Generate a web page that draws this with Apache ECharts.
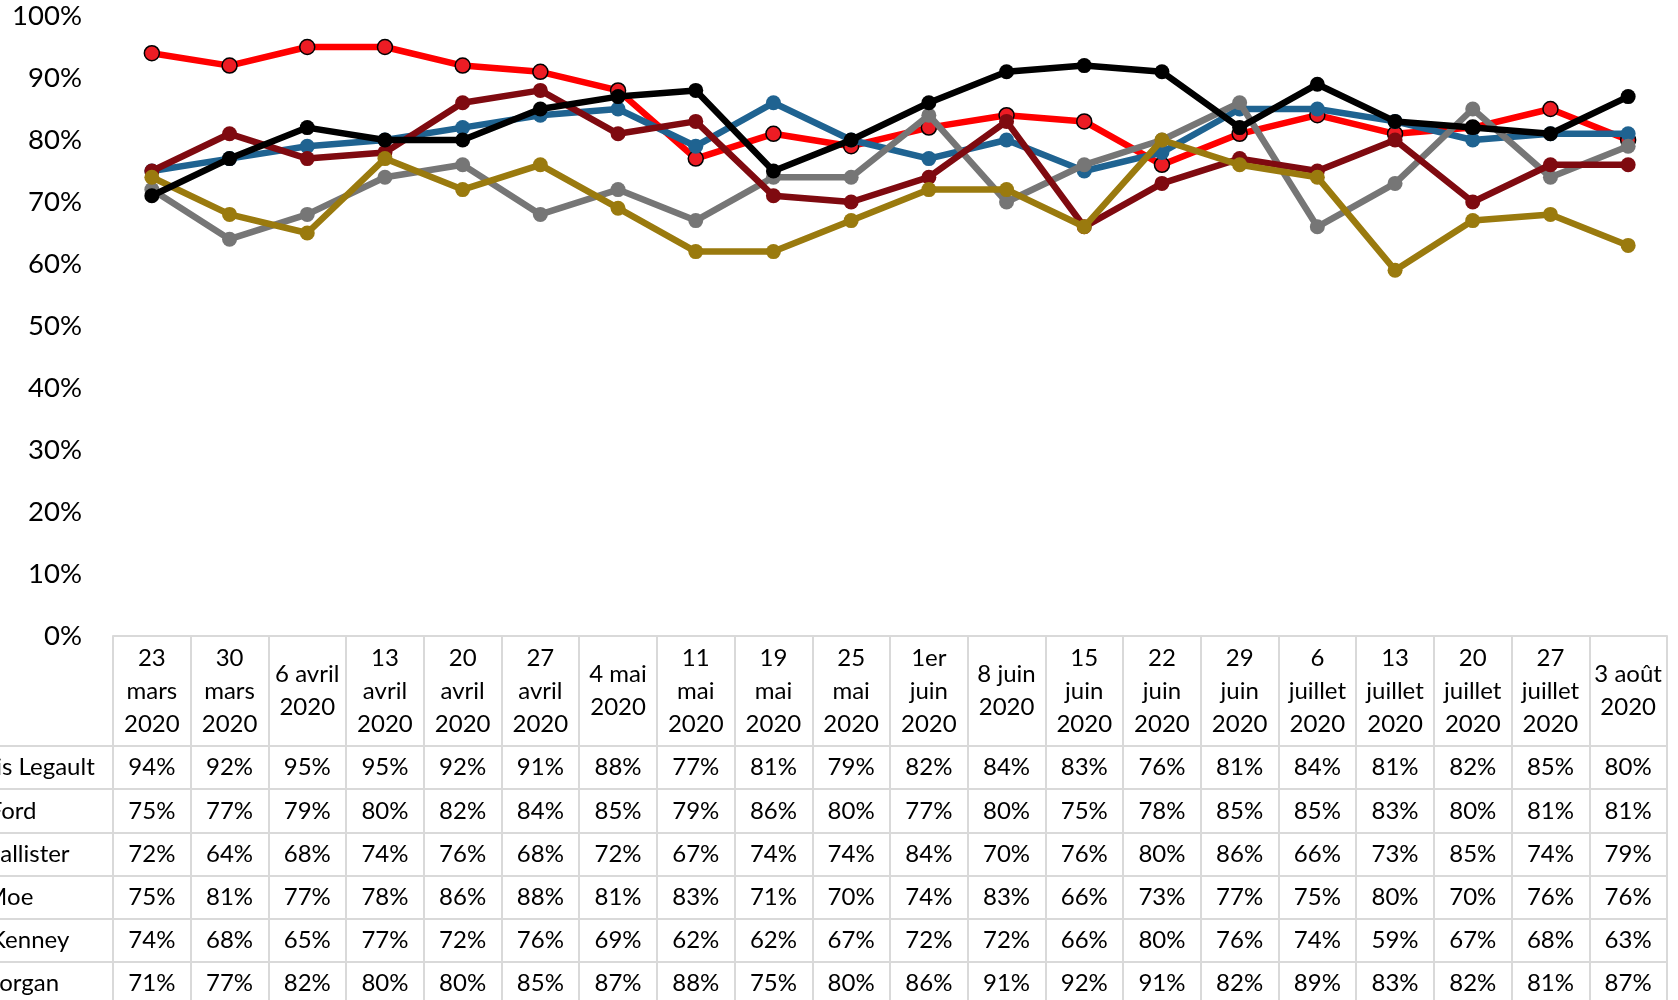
<!DOCTYPE html>
<html>
<head>
    <meta charset="utf-8">
    <title>Premiers ministres</title>
    <script src="https://cdn.jsdelivr.net/npm/echarts@6/dist/echarts.min.js"></script>
    <style>
        html, body { margin: 0; padding: 0; background: #fff; }
        #chart { width: 1678px; height: 1000px; }
    </style>
</head>
<body>
<div id="chart"></div>
<script>
    // categories (table header)
    var dates = ['23\nmars\n2020', '30\nmars\n2020', '6 avril\n2020', '13\navril\n2020', '20\navril\n2020',
        '27\navril\n2020', '4 mai\n2020', '11\nmai\n2020', '19\nmai\n2020', '25\nmai\n2020',
        '1er\njuin\n2020', '8 juin\n2020', '15\njuin\n2020', '22\njuin\n2020', '29\njuin\n2020',
        '6\njuillet\n2020', '13\njuillet\n2020', '20\njuillet\n2020', '27\njuillet\n2020', '3 août\n2020'];

    var names = ['François Legault', 'Doug Ford', 'Brian Pallister', 'Scott Moe', 'Jason Kenney', 'John Horgan'];

    var legault = [94, 92, 95, 95, 92, 91, 88, 77, 81, 79, 82, 84, 83, 76, 81, 84, 81, 82, 85, 80];
    var ford = [75, 77, 79, 80, 82, 84, 85, 79, 86, 80, 77, 80, 75, 78, 85, 85, 83, 80, 81, 81];
    var pallister = [72, 64, 68, 74, 76, 68, 72, 67, 74, 74, 84, 70, 76, 80, 86, 66, 73, 85, 74, 79];
    var moe = [75, 81, 77, 78, 86, 88, 81, 83, 71, 70, 74, 83, 66, 73, 77, 75, 80, 70, 76, 76];
    var kenney = [74, 68, 65, 77, 72, 76, 69, 62, 62, 67, 72, 72, 66, 80, 76, 74, 59, 67, 68, 63];
    var horgan = [71, 77, 82, 80, 80, 85, 87, 88, 75, 80, 86, 91, 92, 91, 82, 89, 83, 82, 81, 87];

    var yTicks = [0, 10, 20, 30, 40, 50, 60, 70, 80, 90, 100];

    var allRows = [legault, ford, pallister, moe, kenney, horgan];
    var lineColors = ['#FF0000', '#1F6391', '#767676', '#7F0A10', '#9A7A0E', '#000000'];
    var markerColors = ['#ED1C24', '#1F6391', '#767676', '#7F0A10', '#9A7A0E', '#000000'];

    var FONT = 'Lato';
    var BORDER = '#D9D9D9';
    var HEADER_H = 110;
    var ROW_H = 43.2;

    var chart = echarts.init(document.getElementById('chart'));

    // header axis (linked to the series)
    var xAxes = [{
        type: 'category',
        gridIndex: 0,
        position: 'bottom',
        data: dates,
        boundaryGap: true,
        axisLine: { show: true, onZero: false, lineStyle: { color: BORDER, width: 2 } },
        axisTick: { show: true, length: HEADER_H, lineStyle: { color: BORDER, width: 2 } },
        axisLabel: {
            interval: 0, margin: HEADER_H / 2, verticalAlign: 'middle',
            fontFamily: FONT, fontSize: 24, lineHeight: 33, color: '#000'
        },
        splitLine: { show: false }
    }];

    // one axis per table row, values as labels
    allRows.forEach(function (row, i) {
        xAxes.push({
            type: 'category',
            gridIndex: 0,
            position: 'bottom',
            offset: HEADER_H + ROW_H * i,
            data: row.map(function (v) { return v + '%'; }),
            boundaryGap: true,
            name: names[i],
            nameLocation: 'start',
            nameGap: 188,
            nameMoveOverlap: false,
            nameTextStyle: {
                align: 'left', verticalAlign: 'top', lineHeight: ROW_H,
                fontFamily: FONT, fontSize: 24, color: '#000'
            },
            axisLine: { show: false, onZero: false },
            axisTick: { show: true, length: ROW_H, lineStyle: { color: BORDER, width: 2 } },
            axisLabel: {
                interval: 0, margin: ROW_H / 2, verticalAlign: 'middle',
                fontFamily: FONT, fontSize: 24, color: '#000'
            },
            splitLine: { show: false }
        });
    });

    // full-width row separators (second grid reaching the left edge)
    for (var k = 0; k <= allRows.length; k++) {
        xAxes.push({
            type: 'category',
            gridIndex: 1,
            position: 'bottom',
            offset: HEADER_H + ROW_H * k,
            data: [''],
            axisLine: { show: true, onZero: false, lineStyle: { color: BORDER, width: 2 } },
            axisTick: { show: false },
            axisLabel: { show: false },
            splitLine: { show: false }
        });
    }

    var series = allRows.map(function (row, i) {
        return {
            name: names[i],
            type: 'line',
            xAxisIndex: 0,
            yAxisIndex: 0,
            data: row,
            symbol: 'circle',
            symbolSize: 15,
            z: 2 + i,
            lineStyle: { color: lineColors[i], width: 6.5 },
            itemStyle: i === 0
                ? { color: markerColors[i], borderColor: '#000', borderWidth: 1.5 }
                : { color: markerColors[i], borderWidth: 0 },
            emphasis: { disabled: true }
        };
    });

    var option = {
        animation: false,
        backgroundColor: '#fff',
        grid: [
            { left: 113, right: 11, top: 16, bottom: 364, outerBoundsMode: 'none', containLabel: false },
            { left: -20, right: 11, top: 16, bottom: 364, outerBoundsMode: 'none', containLabel: false }
        ],
        xAxis: xAxes,
        yAxis: [{
            type: 'value',
            gridIndex: 0,
            min: yTicks[0],
            max: yTicks[yTicks.length - 1],
            interval: 10,
            axisLine: { show: false },
            axisTick: { show: false },
            splitLine: { show: false },
            axisLabel: {
                margin: 31, fontFamily: FONT, fontSize: 27.5, color: '#000',
                formatter: '{value}%'
            }
        }, {
            type: 'value',
            gridIndex: 1,
            show: false
        }],
        series: series
    };

    chart.setOption(option);
</script>
</body>
</html>
